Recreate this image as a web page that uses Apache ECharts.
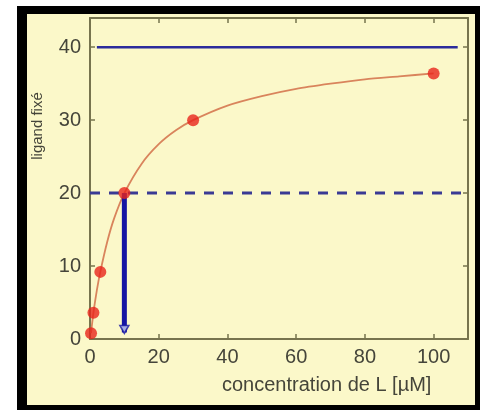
<!DOCTYPE html>
<html>
<head>
<meta charset="utf-8">
<script src="https://cdn.jsdelivr.net/npm/echarts@6/dist/echarts.min.js"></script>
<style>html,body{margin:0;padding:0;background:#fff;}#c{width:482px;height:410px;}</style>
</head>
<body>
<div id="c"></div>
<script>
// Measured points (concentration de L, ligand fixé)
var pointsX = [0.3, 1, 3, 10, 30, 100];
var pointsY = [0.8, 3.6, 9.2, 20, 30, 36.4];
// Fitted curve
var curveX = [0.3, 1, 2, 3, 5, 7, 10, 15, 20, 25, 30, 40, 50, 60, 70, 80, 90, 100];
var curveY = [0.8, 3.6, 6.7, 9.2, 13.3, 16.5, 20, 24, 26.7, 28.6, 30, 32, 33.3, 34.3, 35, 35.6, 36, 36.4];
// Reference lines
var bmaxX = [2, 107];
var bmaxY = [40, 40];
var halfX = [0, 110];
var halfY = [20, 20];
var arrowX = [10, 10];
var arrowY = [20, 0.9];
var xTicks = [0, 20, 40, 60, 80, 100];
var yTicks = [0, 10, 20, 30, 40];
var xTitle = 'concentration de L [µM]';
var yTitle = 'ligand fixé';

function zip(a, b) { return a.map(function (v, i) { return [v, b[i]]; }); }

var axisCol = '#77744e';
var labCol = '#45453a';
var font = 'Liberation Sans, Arial, sans-serif';

var chart = echarts.init(document.getElementById('c'));
function baseX(pos) {
  return {
    type: 'value', min: 0, max: 110, interval: 20, position: pos,
    axisLine: { show: true, onZero: false, lineStyle: { color: axisCol, width: 2 } },
    axisTick: { show: true, inside: true, length: 5, lineStyle: { color: axisCol, width: 1.5 } },
    splitLine: { show: false }
  };
}
function baseY(pos) {
  return {
    type: 'value', min: 0, max: 44, interval: 10, position: pos,
    axisLine: { show: true, onZero: false, lineStyle: { color: axisCol, width: 2 } },
    axisTick: { show: true, inside: true, length: 5, lineStyle: { color: axisCol, width: 1.5 } },
    splitLine: { show: false }
  };
}
var xb = baseX('bottom');
xb.axisLabel = { show: true, margin: 8, fontSize: 20, color: labCol, fontFamily: font,
  formatter: function (v) { return xTicks.indexOf(v) >= 0 ? String(v) : ''; } };
var xt = baseX('top'); xt.axisLabel = { show: false };
var yl = baseY('left');
yl.axisLabel = { show: true, margin: 9, fontSize: 20, color: labCol, fontFamily: font,
  formatter: function (v) { return yTicks.indexOf(v) >= 0 ? String(v) : ''; } };
var yr = baseY('right'); yr.axisLabel = { show: false };

chart.setOption({
  backgroundColor: '#ffffff',
  animation: false,
  graphic: [
    { type: 'rect', z: -20, shape: { x: 17, y: 6, width: 463, height: 404 }, style: { fill: '#000' } },
    { type: 'rect', z: -19, shape: { x: 27, y: 14, width: 448, height: 391 }, style: { fill: '#fbf8c9' } },
    { type: 'text', z: 5, left: 222, top: 375, style: { text: xTitle, fill: labCol, font: '20px ' + font } },
    { type: 'text', z: 5, x: 38, y: 126, rotation: Math.PI / 2,
      style: { text: yTitle, fill: labCol, font: '15px ' + font, textAlign: 'center', textVerticalAlign: 'middle' } }
  ],
  grid: { left: 90, right: 14, top: 18, bottom: 71, containLabel: false },
  xAxis: [xb, xt],
  yAxis: [yl, yr],
  series: [
    { type: 'line', data: zip(bmaxX, bmaxY), symbol: 'none', z: 3,
      lineStyle: { color: '#2b2b9c', width: 2.5 } },
    { type: 'line', data: zip(halfX, halfY), symbol: 'none', z: 3,
      lineStyle: { color: '#3a3a94', width: 3, type: [10, 9] } },
    { type: 'line', data: zip(curveX, curveY), symbol: 'none', smooth: 0.25, z: 4,
      lineStyle: { color: '#d9845c', width: 1.8 } },
    { type: 'line', data: zip(arrowX, arrowY), symbol: 'none', z: 5,
      lineStyle: { color: '#1515a3', width: 5 } },
    { type: 'scatter', data: [[arrowX[1], arrowY[1]]], symbol: 'triangle', symbolRotate: 180, symbolSize: [9, 8],
      symbolOffset: [0, -3], z: 6,
      itemStyle: { color: '#c9d2f2', borderColor: '#1515a3', borderWidth: 1.5 } },
    { type: 'scatter', data: zip(pointsX, pointsY), symbol: 'circle', symbolSize: 12, z: 6,
      itemStyle: { color: '#e8241c' } }
  ]
});
</script>
</body>
</html>
